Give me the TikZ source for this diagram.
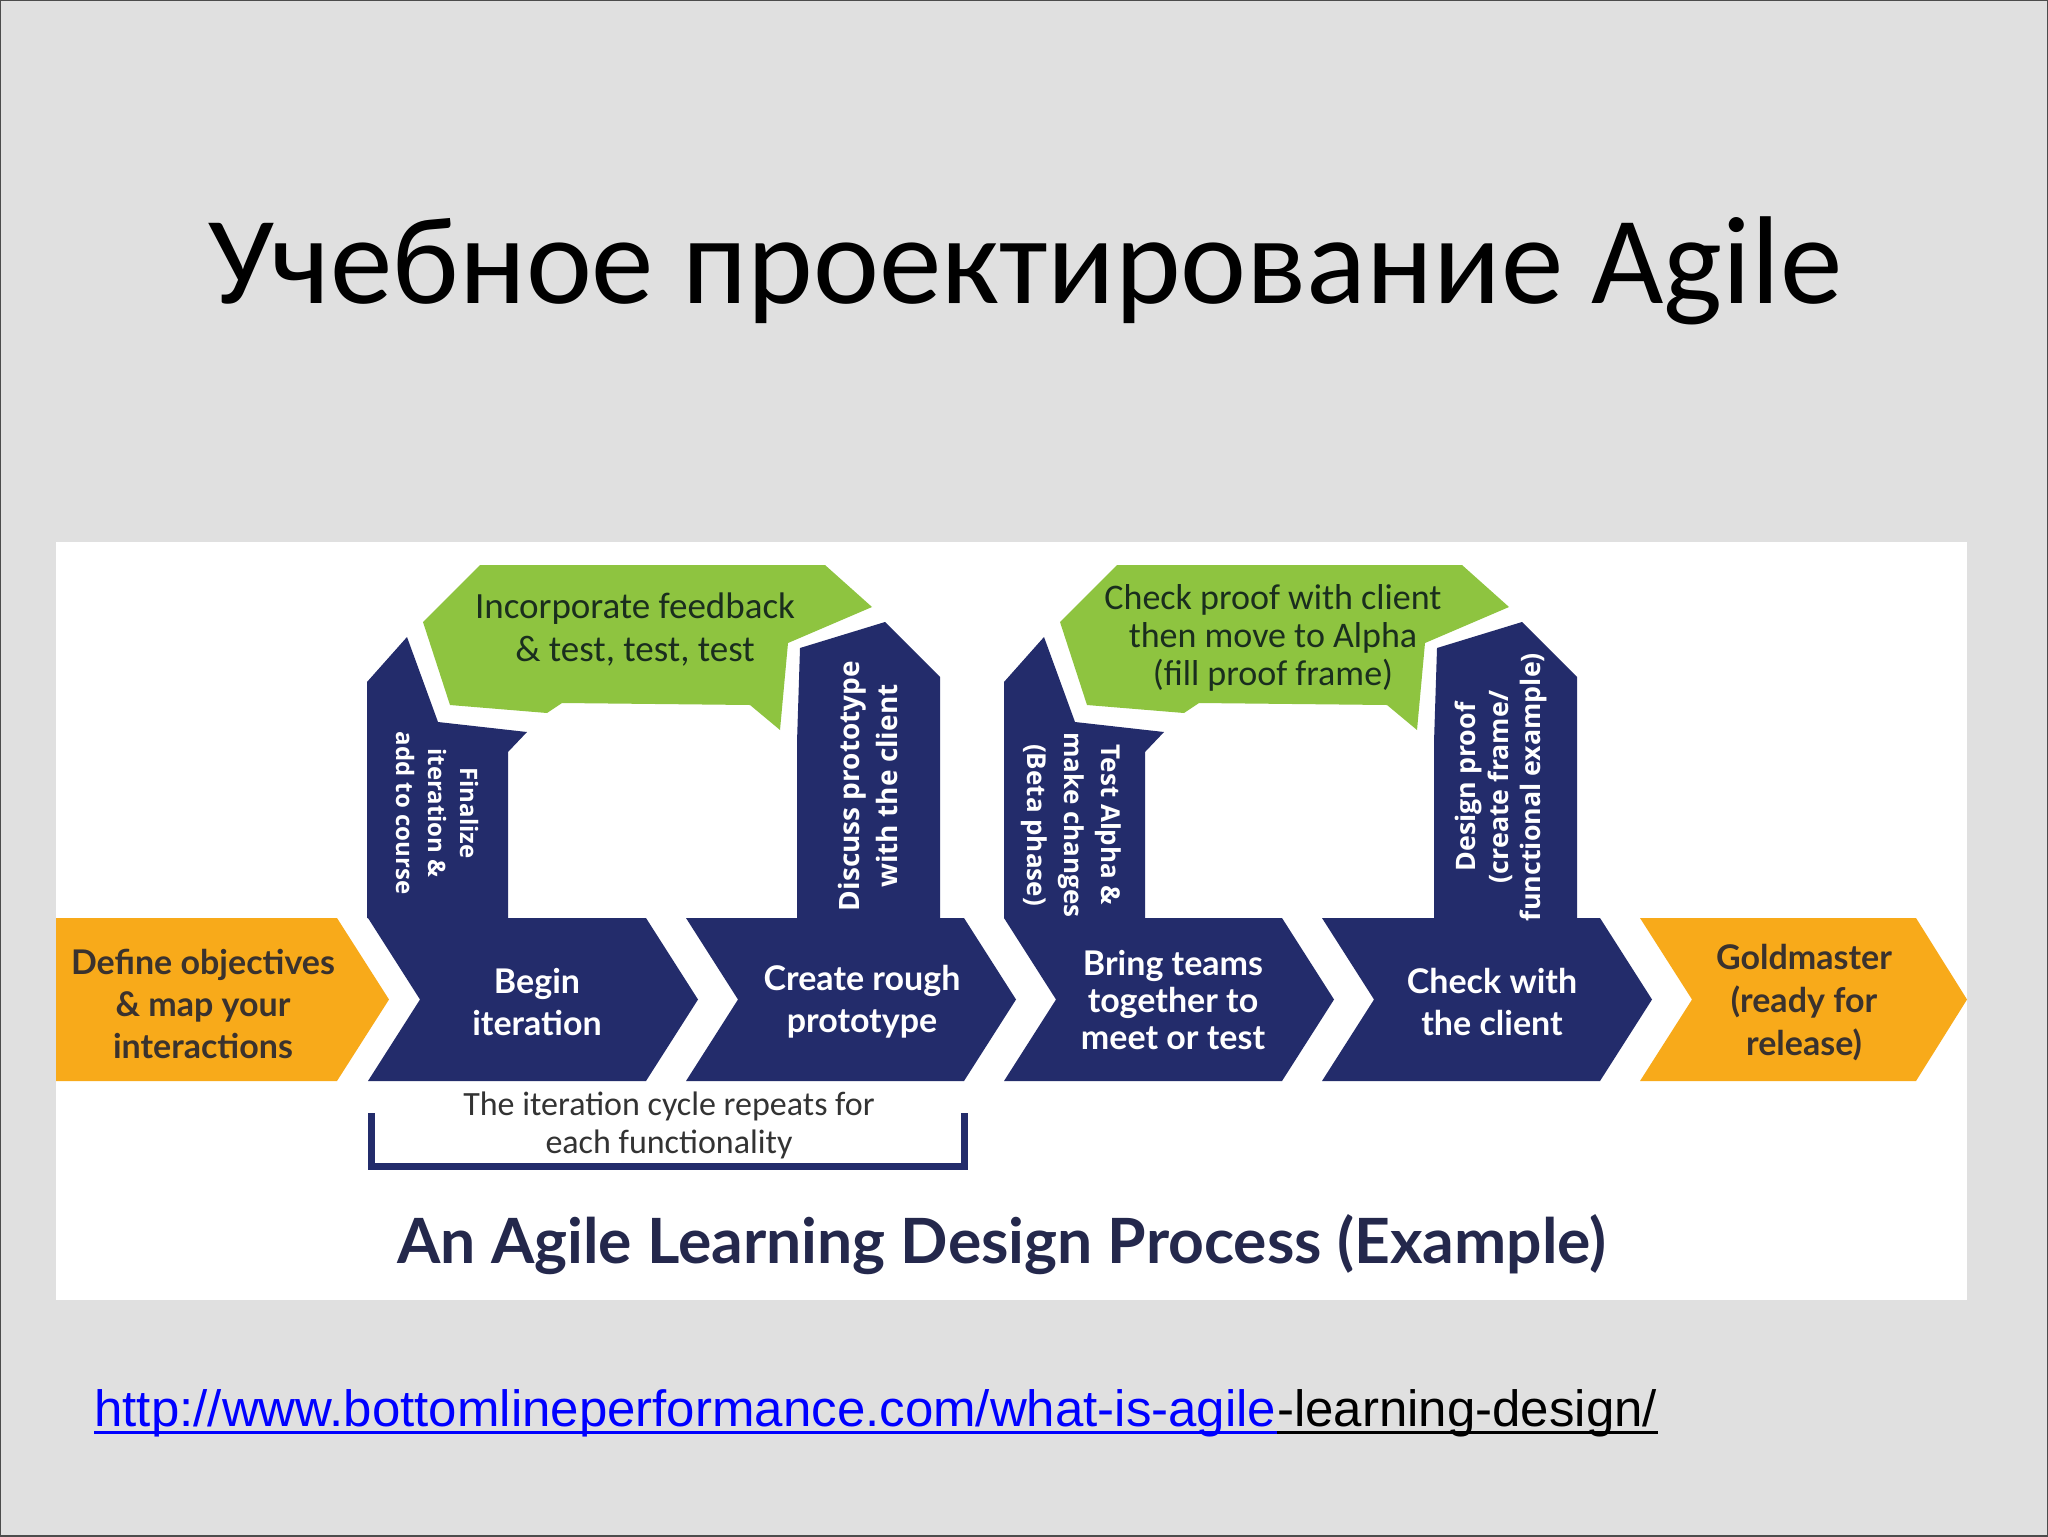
\documentclass[tikz,border=0pt]{standalone}
\usepackage{fontspec}
\setmainfont{Lato}
\newfontfamily\calib{Carlito}
\newfontfamily\opensans{Open Sans}
\newfontfamily\arialfont{Liberation Sans}
\usetikzlibrary{positioning}

\definecolor{slidegrey}{RGB}{224,224,224}
\definecolor{navy}{RGB}{35,44,107}
\definecolor{amber}{RGB}{248,170,26}
\definecolor{leaf}{RGB}{142,196,64}
\definecolor{amberink}{RGB}{58,50,46}
\definecolor{leafink}{RGB}{26,46,30}
\definecolor{captionink}{RGB}{36,40,76}
\definecolor{linkblue}{RGB}{0,0,255}

\tikzstyle{steptext}=[align=center,inner sep=0pt,font=\bfseries\fontsize{17}{21}\selectfont]
\tikzstyle{navytext}=[steptext,text=white]
\tikzstyle{ambertext}=[steptext,text=amberink]
\tikzstyle{armtext}=[align=center,inner sep=0pt,text=white,font=\opensans\bfseries\fontsize{14}{19}\selectfont]
\tikzstyle{leaftext}=[align=center,inner sep=0pt,text=leafink,font=\calib\fontsize{18.5}{21.5}\selectfont]

\begin{document}
\begin{tikzpicture}[x=0.5pt,y=-0.5pt]
	\useasboundingbox (0,0) rectangle (2048,1536);
	% slide
	\fill[slidegrey] (0,0) rectangle (2048,1536);
	\draw[black!70,line width=1pt] (0,0) rectangle (2048,1536);
	\node[anchor=base,inner sep=0pt,font=\calib\fontsize{62.5}{70}\selectfont] (title) at (1025,303) {Учебное проектирование Agile};
	% infographic
	\fill[white] (56,542) rectangle (1967,1300);
	\fill[amber] (56,918) -- (337,918) -- (389,999.5) -- (337,1081) -- (56,1081) -- cycle;
	\foreach \x in {368,686,1004,1322}
		\fill[navy] (\x,918) -- ++(278,0) -- ++(52,81.5) -- ++(-52,81.5) -- ++(-278,0) -- ++(52,-81.5) -- cycle;
	\fill[amber] (1640,918) -- (1916,918) -- (1967,999.5) -- (1916,1081) -- (1640,1081) -- (1692,999.5) -- cycle;
	% the two iteration loops
	\foreach \dx in {0,637} {
		\begin{scope}[shift={(\dx,0)}]
			\fill[navy] (367,918) -- (367,682) -- (407,637) -- (438,722) -- (527,732) -- (508,752) -- (508,918) -- cycle;
			\fill[navy] (797,918) -- (797,742) -- (800,648) -- (885,622) -- (940,677) -- (940,918) -- cycle;
			\fill[leaf] (480,565) -- (825,565) -- (872,607) -- (788,643) -- (780,730) -- (750,705) -- (562,703) -- (547,713) -- (450,705) -- (423,622) -- cycle;
		\end{scope}
	}
	\node[ambertext] (define) at (203,1004) {Define objectives\\\& map your\\interactions};
	\node[navytext] (begin) at (537,1002) {Begin\\iteration};
	\node[navytext] (rough) at (862,1002) {Create rough\\prototype};
	\node[navytext,font=\bfseries\fontsize{17}{18.5}\selectfont] (teams) at (1173,1000) {Bring teams\\together to\\meet or test};
	\node[navytext] (checkclient) at (1492,1002) {Check with\\the client};
	\node[ambertext,font=\bfseries\fontsize{17}{21.5}\selectfont] (gold) at (1804,1003) {Goldmaster\\(ready for\\release)};
	\node[armtext,rotate=-90,font=\opensans\bfseries\fontsize{12}{16}\selectfont] (finalize) at (437,813) {Finalize\\iteration \&\\add to course};
	\node[armtext,rotate=90] (discuss) at (868,786) {Discuss prototype\\with the client};
	\node[armtext,rotate=-90,font=\opensans\bfseries\fontsize{13}{18.6}\selectfont] (testalpha) at (1071,825) {Test Alpha \&\\make changes\\(Beta phase)};
	\node[armtext,rotate=90,font=\opensans\bfseries\fontsize{13.4}{16.3}\selectfont] (designproof) at (1501,787) {Design proof\\(create frame/\\functional example)};
	\node[leaftext] (feedback) at (635,630) {Incorporate feedback\\\& test, test, test};
	\node[leaftext,font=\calib\fontsize{18}{19}\selectfont] (checkproof) at (1273,638) {Check proof with client\\then move to Alpha\\(fill proof frame)};
	% bracket under the first loop
	\node[align=center,inner sep=0pt,text=black!80,font=\calib\fontsize{17}{19}\selectfont] (repeat) at (669,1125) {The iteration cycle repeats for\\each functionality};
	\draw[navy,line width=3.5pt] (371,1113) -- (371,1166) -- (964,1166) -- (964,1113);
	\node[anchor=base,inner sep=0pt,text=captionink,font=\bfseries\fontsize{31.2}{36}\selectfont] (caption) at (1002,1263) {An Agile Learning Design Process (Example)};
	% source
	\node[anchor=base west,inner sep=0pt,text=linkblue,font=\arialfont\fontsize{25.5}{30}\selectfont] (urlhead) at (94,1426) {http://www.bottomlineperformance.com/what-is-agile};
	\node[base right=0pt of urlhead,inner sep=0pt,font=\arialfont\fontsize{25.5}{30}\selectfont] (urltail) {-learning-design/};
	\draw[linkblue,line width=1.5pt] ([yshift=-3pt]urlhead.base west) -- ([yshift=-3pt]urlhead.base east);
	\draw[line width=1.5pt] ([yshift=-3pt]urltail.base west) -- ([yshift=-3pt]urltail.base east);
\end{tikzpicture}
\end{document}
